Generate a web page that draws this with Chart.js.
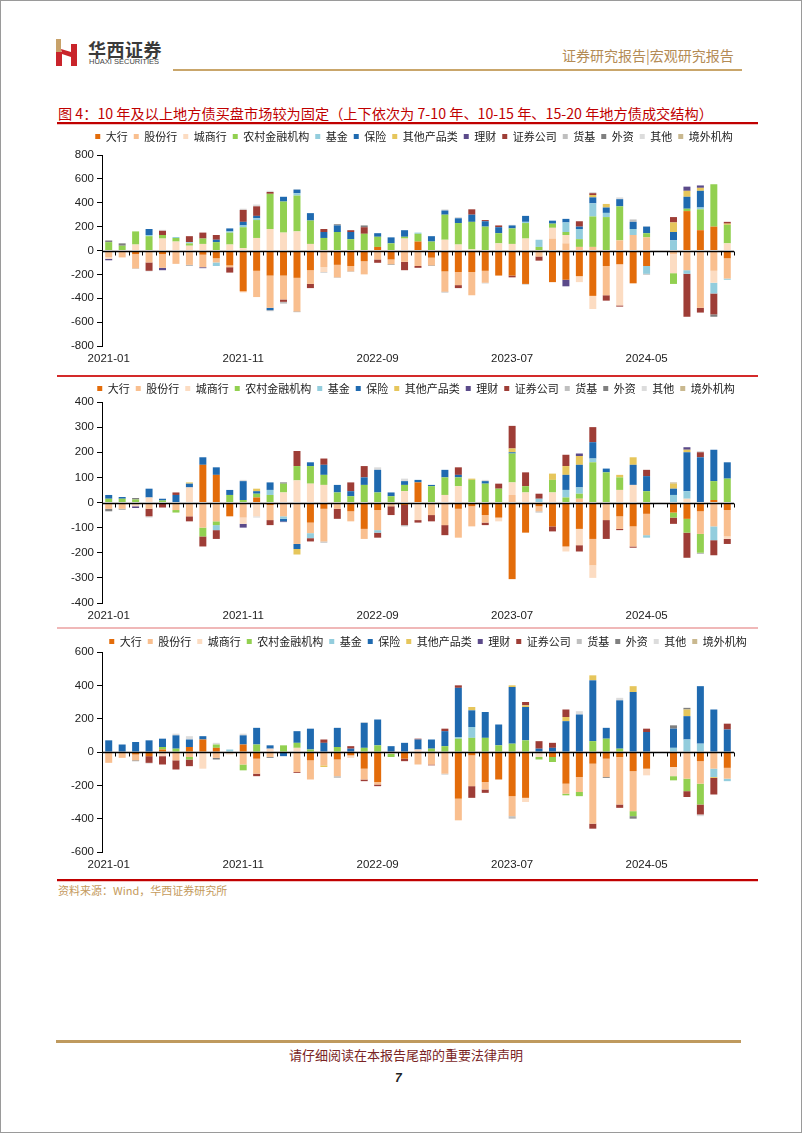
<!DOCTYPE html>
<html>
<head>
<meta charset="utf-8">
<script src="https://cdn.jsdelivr.net/npm/chart.js@4.4.1/dist/chart.umd.min.js"></script>
<style>
  html, body { margin: 0; padding: 0; background: #fff; overflow: hidden; }
  #page { position: relative; width: 802px; height: 1133px; overflow: hidden; box-sizing: border-box; border: 1px solid #9a9a9a; font-family: "Noto Sans CJK SC", "Liberation Sans", sans-serif; }
  .abs { position: absolute; white-space: nowrap; }
  canvas { position: absolute; }
</style>
</head>
<body>
<div id="page">
  <svg class="abs" style="left:55px;top:38px" width="22" height="27" viewBox="0 0 22 27">
    <rect x="0" y="0" width="5" height="13" fill="#C8A26A"/>
    <rect x="0" y="13" width="6" height="14" fill="#C9242B"/>
    <rect x="15" y="5" width="6" height="22" fill="#C9242B"/>
    <polygon points="5,10 15,13 15,18 6,15" fill="#C9242B"/>
  </svg>
  <div class="abs" style="left:87px;top:35px;font-size:18px;font-weight:bold;color:#3a3a3a;letter-spacing:0.5px">华西证券</div>
  <div class="abs" style="left:88px;top:56px;font-size:7.5px;font-family:'Liberation Sans';color:#444">HUAXI SECURITIES</div>
  <div class="abs" style="left:561px;top:44px;font-size:14px;color:#B38B55">证券研究报告|宏观研究报告</div>
  <div class="abs" style="left:172px;top:68px;width:569px;height:2px;background:#C9A66B"></div>

  <div class="abs" style="left:57px;top:102px;font-size:14.2px;color:#C00000">图 4：10 年及以上地方债买盘市场较为固定（上下依次为 7-10 年、10-15 年、15-20 年地方债成交结构）</div>
  <div class="abs" style="left:56px;top:121px;width:701px;height:2px;background:#C00000"></div>
  <div class="abs" style="left:56px;top:123px;width:701px;height:1px;background:#F3C2C2"></div>

  <canvas id="chart1" width="746" height="243" style="left:40px;top:124px"></canvas>
  <div class="abs" style="left:56px;top:374px;width:701px;height:2px;background:#D42A2A"></div>
  <canvas id="chart2" width="750" height="248" style="left:40px;top:376px"></canvas>
  <div class="abs" style="left:56px;top:626px;width:701px;height:2px;background:#F0B8B8"></div>
  <canvas id="chart3" width="774" height="244" style="left:40px;top:629px"></canvas>
  <div class="abs" style="left:56px;top:878px;width:701px;height:2px;background:#C00000"></div>
  <div class="abs" style="left:56px;top:880px;width:701px;height:1px;background:#F3C2C2"></div>

  <div class="abs" style="left:57px;top:881px;font-size:11px;color:#C49A5C">资料来源：Wind，华西证券研究所</div>

  <div class="abs" style="left:55px;top:1039px;width:685px;height:3px;background:#BF9A5E"></div>
  <div class="abs" style="left:288px;top:1044px;font-size:13px;color:#7A2424">请仔细阅读在本报告尾部的重要法律声明</div>
  <div class="abs" style="left:394px;top:1070px;font-size:12px;font-weight:bold;font-style:italic;color:#222;font-family:'Liberation Sans'">7</div>
</div>

<script>
const months = [
  "2021-01","2021-02","2021-03","2021-04","2021-05","2021-06","2021-07","2021-08","2021-09","2021-10","2021-11","2021-12",
  "2022-01","2022-02","2022-03","2022-04","2022-05","2022-06","2022-07","2022-08","2022-09","2022-10","2022-11","2022-12",
  "2023-01","2023-02","2023-03","2023-04","2023-05","2023-06","2023-07","2023-08","2023-09","2023-10","2023-11","2023-12",
  "2024-01","2024-02","2024-03","2024-04","2024-05","2024-06","2024-07","2024-08","2024-09","2024-10","2024-11"
];

const seriesNames = ["大行", "股份行", "城商行", "农村金融机构", "基金", "保险", "其他产品类", "理财", "证券公司", "货基", "外资", "其他", "境外机构"];
const seriesColors = ["#E36C0A", "#F9BF8F", "#FCDCC2", "#92D050", "#93CDDD", "#1F6AB0", "#E6C65C", "#5B4A8A", "#9E3D36", "#BFBFBF", "#7F7F7F", "#DCDCDC", "#C9B88F"];

// 7-10年
const c1Big = [0,0,-30,0,-30,0,0,-35,-65,-125, -340,-170,-210,-210,-229,-165,0,-120,-130,-90, 30,-75,0,75,-60,-175,-180,-180,-170,-210, -210,-280,0,-265,-245,-215,-380,-130,-115,-275, -130,0,0,330,170,200,-65];
const c1Joint = [-55,-55,-120,-100,-115,-112,-120,-105,-35,-15, -10,-220,-270,-200,-282,-115,-140,-105,-45,-110, -75,-40,-95,-130,-65,-170,-110,-195,-100,0, 0,0,-50,100,60,30,30,-245,85,130, 110,0,-30,-165,-480,-170,-170];
const c1City = [-15,-6,50,0,100,75,40,55,0,50, 20,105,180,150,160,55,-40,0,0,0, 0,0,100,0,0,90,50,10,0,60, 55,100,0,90,70,-50,-110,0,-345,0, 0,0,-160,0,0,-100,60];
const c1Rural = [70,40,110,120,30,30,20,45,70,100, 175,150,295,260,300,196,105,155,95,140, 85,60,15,65,75,210,180,230,200,85, 130,130,30,35,25,65,255,280,285,0, 35,0,-90,20,175,355,155];
const c1Fund = [0,0,0,10,0,8,10,0,-30,10, 15,15,0,0,20,0,0,0,0,0, 0,0,0,10,0,0,0,0,0,0, 0,10,60,0,80,85,110,35,0,50, -65,0,85,-30,15,-90,-10];
const c1Ins = [0,0,0,50,0,0,0,0,20,25, 30,20,-20,40,30,62,50,55,60,0, 30,50,55,0,45,35,40,60,45,50, 25,50,0,25,30,20,50,45,60,60, 55,0,70,100,140,0,0];
const c1Prod = [0,0,0,0,0,0,0,0,0,0, 0,0,0,0,0,0,0,0,0,0, 0,0,0,0,0,0,0,0,0,0, 0,0,0,0,0,0,20,30,0,0, 0,0,80,50,25,0,10];
const c1Wealth = [-12,0,0,0,-20,0,0,-8,0,0, 0,0,0,0,0,0,0,0,0,0, 0,0,0,0,0,0,0,0,0,0, 0,0,0,0,-55,0,0,0,0,0, 0,0,0,35,20,0,0];
const c1Sec = [0,0,0,-70,35,0,50,50,40,-45, 100,80,15,-20,0,-35,25,0,15,55, -28,0,-70,-15,0,0,-25,45,10,15, -15,0,-35,0,0,45,15,-45,-10,0, 0,0,45,-360,-40,-175,15];
const c1Mmf = [0,0,-5,0,0,0,0,0,0,0, 0,0,-8,-15,0,0,-5,-5,-5,0, 0,0,0,0,0,0,0,0,-5,0, 0,-5,0,0,0,0,0,0,0,20, 0,0,0,0,0,0,0];
const c1Foreign = [14,20,0,0,0,0,-6,0,0,0, 0,0,0,0,-5,0,0,10,0,15, 0,-5,0,0,-5,-5,0,0,0,0, 0,0,0,0,0,0,0,0,0,0, -5,0,0,0,0,-20,0];
const c1Other = [0,0,0,-5,8,0,0,0,0,0, 10,15,10,0,5,0,0,0,0,0, 0,0,0,0,0,10,10,0,0,0, 5,0,0,0,0,0,10,0,15,0, 5,0,0,0,0,0,0];
const c1Overseas = [0,0,0,0,0,0,0,0,0,0, 0,0,0,0,0,0,0,0,0,0, 0,0,0,0,0,0,0,0,0,0, 0,0,0,0,0,0,0,0,0,0, 0,0,0,0,0,0,0];

// 10-15年
const c2Big = [0,0,0,0,0,0,0,150,110,-55, 0,20,-10,0,-5,-80,-25,0,-35,-105, -30,0,-10,80,0,0,-25,-15,-50,-60, -305,-120,-15,-95,-175,-105,-145,0,-55,-95, -45,0,-40,-65,-35,10,-30];
const c2Joint = [-25,-25,0,-25,0,-30,-55,-100,-75,0, -60,0,-60,-55,-160,-42,-130,-25,-40,-40, -80,-15,0,0,-50,-90,-115,-80,-30,0, 30,0,-20,0,0,15,-105,-70,-50,-80, -85,0,0,0,-90,-95,-105];
const c2City = [0,0,-15,20,0,0,60,0,0,0, -25,-55,0,40,88,75,70,0,0,0, 0,0,45,-70,0,30,65,0,0,-15, 50,40,0,40,-20,-65,-50,0,50,70, 0,0,0,15,0,0,-10];
const c2Rural = [15,15,12,0,8,-10,0,-35,-15,30, 10,15,30,35,57,70,40,40,25,70, 40,25,25,0,65,70,35,90,75,55, 115,25,0,50,20,20,160,120,50,0, 45,0,-20,-55,-75,75,95];
const c2Fund = [0,0,0,0,0,0,0,0,-20,0, 0,0,20,-10,0,-20,0,0,0,0, -10,0,0,0,0,0,0,0,0,0, 0,0,15,0,30,25,15,0,0,0, -10,0,30,30,0,-55,0];
const c2Ins = [15,7,0,35,7,30,15,30,30,20, 75,10,30,-10,-20,15,40,30,20,30, 90,15,15,10,5,30,10,0,10,0, 5,0,0,0,60,90,65,15,0,80, 60,0,25,155,180,125,65];
const c2Prod = [0,0,0,0,0,0,5,0,0,0, 0,10,0,0,-22,0,0,0,0,0, 0,0,0,0,0,0,0,5,0,0, 15,0,0,25,35,35,0,0,10,30, 0,0,20,10,0,0,0];
const c2Wealth = [0,0,-7,0,0,0,0,0,0,0, -15,0,0,-3,0,0,0,0,0,0, 0,0,0,0,0,0,0,0,0,0, 0,0,0,0,0,10,0,0,0,0, 0,0,0,10,0,0,0];
const c2Sec = [0,0,0,-30,-20,10,-20,-40,-35,0, 0,0,-20,0,60,-13,25,-40,35,45, -20,-35,-80,-10,-25,-40,30,0,-10,20, 90,55,20,-20,45,-25,60,-75,-5,-5, 25,0,-25,-100,20,-60,-20];
const c2Mmf = [0,0,0,0,0,0,0,0,0,0, 0,0,0,0,0,0,-5,0,0,0, 0,0,-5,0,0,0,0,0,0,0, 0,0,-5,0,0,0,0,0,0,0, 0,0,0,0,-5,0,0];
const c2Foreign = [-10,-3,6,0,0,0,0,0,0,0, 0,0,0,5,0,0,0,0,0,0, 0,0,0,0,0,0,0,0,0,0, 0,0,0,0,0,0,0,0,0,0, 0,0,0,0,0,0,0];
const c2Other = [0,0,0,-5,0,0,0,0,0,0, 5,-5,0,0,0,0,0,0,0,0, 10,0,10,0,0,0,0,0,5,0, 0,0,0,0,0,0,0,0,0,0, 0,0,0,0,5,0,0];
const c2Overseas = [0,0,0,0,0,0,0,0,0,0, 0,0,0,0,0,0,0,0,0,0, 0,0,0,0,0,0,0,0,0,0, 0,0,0,0,0,0,0,0,0,0, 0,0,5,0,0,0,0];

// 15-20年
const c3Big = [0,0,-15,-25,15,0,30,75,25,0, 45,-40,0,0,0,-50,0,-45,-20,-100, -180,0,-40,0,0,0,-280,-20,-180,-165, -265,-275,0,-30,-190,-150,-70,-40,-30,-115, -100,0,-90,0,-55,0,-95];
const c3Joint = [-65,-35,-35,0,-10,-50,-30,0,-35,0, -75,-90,-30,0,-120,-115,-80,-100,0,-65, -15,0,0,-75,-75,-130,-130,-185,-45,0, -120,0,0,0,-60,-90,-360,-110,-285,-240, 0,0,0,-160,-135,-100,-65];
const c3City = [0,0,0,0,-15,0,0,-100,0,-15, 0,0,20,0,25,0,0,0,-15,0, 0,-10,0,15,0,0,0,0,0,0, 0,-25,-30,0,0,0,0,0,0,0, -40,0,-55,0,0,0,0];
const c3Rural = [0,0,0,0,15,20,-15,0,20,0, -35,45,0,40,30,15,0,30,0,25, 40,-20,0,0,20,35,80,85,85,40, 50,70,-15,-30,-10,-25,65,80,20,-30, 0,0,-25,-75,-125,0,0];
const c3Fund = [0,0,0,0,0,0,0,0,0,15, 0,0,0,0,0,0,0,0,0,0, 0,0,0,0,0,0,10,65,0,0, 0,0,0,0,0,0,0,0,0,0, 0,0,25,75,50,-50,-15];
const c3Ins = [70,45,60,70,50,80,45,20,0,0, 55,100,20,-25,70,125,55,115,20,150, 155,35,55,60,55,90,295,100,155,125, 340,200,20,25,185,225,365,65,290,360, 120,0,115,140,345,255,135];
const c3Prod = [0,0,0,0,0,0,0,0,0,0, 0,0,0,0,0,0,-10,0,0,0, 0,0,0,0,0,0,0,20,0,0, 10,10,0,0,25,0,30,0,0,35, 0,0,0,40,0,-5,0];
const c3Wealth = [0,0,0,0,0,0,0,0,0,0, 0,0,0,0,0,0,0,0,0,0, 0,0,0,0,0,0,0,0,0,0, 0,0,0,0,0,0,0,0,0,0, 0,0,0,0,0,0,0];
const c3Sec = [0,0,0,-40,-50,-55,-40,0,0,0, 0,-15,0,0,-5,0,20,0,15,-10, -10,0,-15,5,-5,15,15,-70,-20,0, 0,20,45,30,45,0,-30,0,-20,0, 20,0,0,-35,-60,-100,35];
const c3Mmf = [0,0,0,0,0,0,0,0,0,0, 0,0,0,0,0,0,0,-10,0,0, 0,0,0,0,0,-5,0,0,0,0, -15,0,0,0,0,0,0,0,0,0, 0,0,0,0,0,0,0];
const c3Foreign = [0,0,-5,0,0,0,0,0,-10,0, 0,0,-5,0,0,0,0,0,0,0, 0,0,0,0,0,0,0,0,0,0, 0,0,0,0,0,0,0,-5,0,-15, 0,0,20,10,0,0,0];
const c3Other = [0,0,0,-5,0,10,20,0,10,0, 10,0,0,0,0,0,0,0,0,5, 0,0,0,0,0,0,0,0,0,0, 0,0,0,0,0,20,0,0,15,0, 0,0,0,0,-10,0,0];
const c3Overseas = [0,0,0,0,0,0,0,0,0,0, 0,0,0,0,0,0,0,0,0,0, 0,0,0,0,0,0,0,0,0,0, 0,0,0,0,0,0,0,0,0,0, 0,0,0,0,0,0,0];

// axis line across zero, with little category ticks under it
const zeroAxis = {
  id: "zeroAxis",
  afterDatasetsDraw(chart) {
    const { ctx, chartArea, scales } = chart;
    const x = scales.x, y = scales.y;
    const y0 = Math.round(y.getPixelForValue(0)) + 0.5;
    const half = (x.getPixelForValue(1) - x.getPixelForValue(0)) / 2;
    ctx.save();
    ctx.strokeStyle = "#000";
    ctx.lineWidth = 1.6;
    ctx.beginPath();
    ctx.moveTo(chartArea.left, y0);
    ctx.lineTo(chartArea.right, y0);
    ctx.stroke();
    ctx.lineWidth = 1;
    ctx.beginPath();
    for (let i = 0; i <= months.length; i++) {
      const px = Math.round(x.getPixelForValue(i) - half) + 0.5;
      ctx.moveTo(px, y0);
      ctx.lineTo(px, y0 + 4);
    }
    ctx.stroke();
    ctx.restore();
  }
};

// extra room under the legend
const legendGap = {
  id: "legendGap",
  beforeInit(chart) {
    const fit = chart.legend.fit;
    chart.legend.fit = function () {
      fit.call(this);
      this.height += chart.options.plugins.legendGap.extra;
    };
  }
};

function makeChart(id, seriesData, yMin, yMax, step, extra, canvasWidth) {
  const datasets = seriesData.map((vals, i) => ({
    label: seriesNames[i],
    data: vals,
    backgroundColor: seriesColors[i],
    borderWidth: 0,
    barPercentage: 1,
    categoryPercentage: 0.52,
    stack: "all"
  }));
  new Chart(document.getElementById(id), {
    type: "bar",
    data: { labels: months, datasets: datasets },
    plugins: [zeroAxis, legendGap],
    options: {
      responsive: false,
      animation: false,
      devicePixelRatio: 1,
      layout: { padding: 0 },
      plugins: {
        legendGap: { extra: extra },
        tooltip: { enabled: false },
        legend: {
          position: "top",
          labels: {
            boxWidth: 5,
            boxHeight: 5,
            padding: 6,
            color: "#222",
            font: { size: 11, family: "Noto Sans CJK SC" }
          }
        }
      },
      scales: {
        x: {
          stacked: true,
          grid: { display: false, drawTicks: false },
          border: { display: false },
          ticks: {
            autoSkip: false,
            maxRotation: 0,
            padding: 6,
            color: "#222",
            font: { size: 11.5, family: "Liberation Sans" },
            callback: (v, i) => (i % 10 === 0 ? months[i] : "")
          },
          afterFit: (s) => { s.height = 22; }
        },
        y: {
          stacked: true,
          min: yMin,
          max: yMax,
          ticks: {
            stepSize: step,
            padding: 3,
            color: "#222",
            font: { size: 11.5, family: "Liberation Sans" }
          },
          grid: { drawOnChartArea: false, color: "#000", tickLength: 5 },
          border: { display: true, color: "#000", width: 1 },
          afterFit: (s) => { s.width = 61; }
        },
        yR: {
          position: "right",
          display: true,
          grid: { display: false },
          border: { display: false },
          ticks: { display: false },
          afterFit: (s) => { s.width = canvasWidth - 733 + 40; }
        }
      }
    }
  });
}

makeChart("chart1",
  [c1Big, c1Joint, c1City, c1Rural, c1Fund, c1Ins, c1Prod, c1Wealth, c1Sec, c1Mmf, c1Foreign, c1Other, c1Overseas],
  -800, 800, 200, 3, 746);
makeChart("chart2",
  [c2Big, c2Joint, c2City, c2Rural, c2Fund, c2Ins, c2Prod, c2Wealth, c2Sec, c2Mmf, c2Foreign, c2Other, c2Overseas],
  -400, 400, 100, -2, 750);
makeChart("chart3",
  [c3Big, c3Joint, c3City, c3Rural, c3Fund, c3Ins, c3Prod, c3Wealth, c3Sec, c3Mmf, c3Foreign, c3Other, c3Overseas],
  -600, 600, 200, -5, 774);
</script>
</body>
</html>
